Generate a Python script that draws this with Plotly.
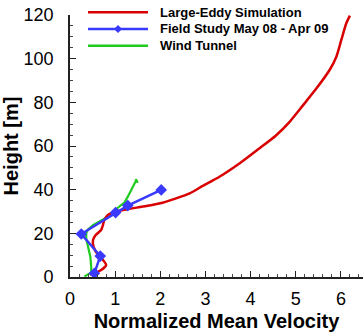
import plotly.graph_objects as go

# Series names
names = ["Large-Eddy Simulation", "Field Study May 08 - Apr 09", "Wind Tunnel"]

# Large-Eddy Simulation (velocity, height)
les_u = [0.45, 0.69, 0.80, 0.73, 0.62, 0.52, 0.51, 0.57, 0.69, 0.73, 0.76, 0.84, 0.99,
         1.28, 1.69, 2.05, 2.35, 2.65, 2.94, 3.31, 3.76, 4.20, 4.55, 4.87, 5.16, 5.46,
         5.75, 5.90, 6.01, 6.12, 6.20]
les_h = [0.9, 3.2, 5.5, 7.8, 10.1, 13.9, 16.9, 19.2, 21.5, 23.8, 26.1, 28.4, 29.9,
         31.1, 32.5, 34.0, 36.0, 38.3, 41.7, 45.9, 52.1, 59.0, 64.6, 71.2, 78.6, 86.4,
         94.8, 100.9, 108.6, 116.2, 119.7]

# Field study
fs_u = [0.54, 0.67, 0.25, 1.01, 1.28, 2.02]
fs_h = [1.7, 9.6, 19.7, 29.5, 32.7, 39.9]

# Wind tunnel
wt_u = [0.32, 0.40, 0.47, 0.47, 0.45, 0.40, 0.36, 0.36, 0.40, 0.51, 0.65, 0.80, 0.95,
        1.10, 1.21, 1.28, 1.36, 1.43, 1.47, 1.50, 1.45]
wt_h = [0.3, 1.2, 2.0, 4.7, 9.3, 13.9, 17.7, 20.0, 21.8, 23.8, 25.3, 27.2, 29.9,
        32.2, 34.2, 36.8, 39.9, 42.9, 44.4, 43.2, 44.8]

x_ticks = [0, 1, 2, 3, 4, 5, 6]
y_ticks = [0, 20, 40, 60, 80, 100, 120]

RED = "#d80000"
BLUE = "#3a3aff"
GREEN = "#1ecb1e"

fig = go.Figure()
fig.add_trace(go.Scatter(x=wt_u, y=wt_h, mode="lines", name=names[2],
                         line=dict(color=GREEN, width=2.2), showlegend=False))
fig.add_trace(go.Scatter(x=les_u, y=les_h, mode="lines", name=names[0],
                         line=dict(color=RED, width=2.5, shape="spline", smoothing=0.6),
                         showlegend=False))
fig.add_trace(go.Scatter(x=fs_u, y=fs_h, mode="lines+markers", name=names[1],
                         line=dict(color=BLUE, width=2.5),
                         marker=dict(symbol="diamond", size=9, color=BLUE),
                         showlegend=False))

FONT = "Liberation Sans, Arial, sans-serif"

fig.update_layout(
    width=363, height=332,
    margin=dict(l=70, r=0, t=15, b=55),
    plot_bgcolor="white", paper_bgcolor="white",
    font=dict(family=FONT, color="black"),
    xaxis=dict(range=[0, 6.49], tickvals=x_ticks, ticktext=[str(v) for v in x_ticks],
               ticks="inside", ticklen=6, tickwidth=1.2, tickcolor="#222",
               showline=True, linecolor="#222", linewidth=1.6, mirror=False,
               showgrid=False, zeroline=False,
               tickfont=dict(size=18), ticklabelstandoff=5,
               minor=dict(dtick=0.2, ticks="inside", ticklen=3, tickcolor="#444", tickwidth=1),
               title=dict(text="<b>Normalized Mean Velocity</b>", font=dict(size=20), standoff=7)),
    yaxis=dict(range=[0, 120], tickvals=y_ticks, ticktext=[str(v) for v in y_ticks],
               ticks="inside", ticklen=6, tickwidth=1.2, tickcolor="#222",
               showline=True, linecolor="#222", linewidth=1.6, mirror=False,
               showgrid=False, zeroline=False,
               tickfont=dict(size=18), ticklabelstandoff=11,
               minor=dict(dtick=5, ticks="inside", ticklen=3, tickcolor="#444", tickwidth=1),
               title=dict(text="<b>Height [m]</b>", font=dict(size=20), standoff=4)),
)

# Custom legend (paper coordinates)
def px2x(px):
    return (px - 70) / 293.0

def py2y(py):
    return (277 - py) / 262.0

rows = [12.3, 29.0, 45.7]
colors = [RED, BLUE, GREEN]
for name, col, r in zip(names, colors, rows):
    fig.add_shape(type="line", xref="paper", yref="paper",
                  x0=px2x(88), x1=px2x(148), y0=py2y(r), y1=py2y(r),
                  line=dict(color=col, width=2.5))
    fig.add_annotation(xref="paper", yref="paper", x=px2x(158), y=py2y(r),
                       text="<b>" + name + "</b>", showarrow=False,
                       xanchor="left", yanchor="middle",
                       font=dict(size=13, family=FONT, color="black"))

fig.add_shape(type="path", xref="paper", yref="paper",
              xsizemode="pixel", ysizemode="pixel",
              xanchor=px2x(118), yanchor=py2y(rows[1]),
              path="M-4,0 L0,4 L4,0 L0,-4 Z",
              fillcolor=BLUE, line=dict(color=BLUE, width=0))

fig.write_html("out.html")
